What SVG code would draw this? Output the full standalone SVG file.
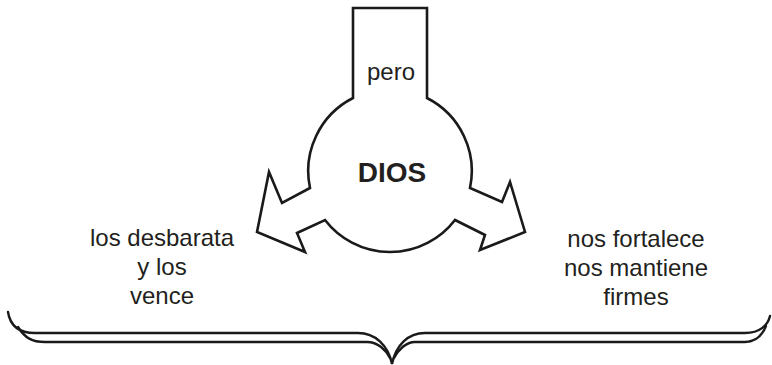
<svg xmlns="http://www.w3.org/2000/svg" width="772" height="365" viewBox="0 0 772 365">
<style>
.shape{fill:#fff;stroke:#1a1a1a;stroke-width:2.6;stroke-linejoin:miter}
.brace{fill:none;stroke:#1a1a1a;stroke-width:2.4;stroke-linecap:round}
.t{font-family:"Liberation Sans",Arial,sans-serif;font-size:24px;fill:#231f20;text-anchor:middle}
.b{font-weight:bold;font-size:28px}
</style>
<rect width="772" height="365" fill="#fff"/>
<g id="dios">
<path class="shape" d="M353,8 L427,8 L427,98 A82,82 0 0 1 470,188 L502,202 L510,182 L525,232 L480,250 L485,235 L455,220 A82,82 0 0 1 325,220 L297,233 L305,252 L257,232 L269,172 L282,203 L310,188 A82,82 0 0 1 353,98 Z"/>
<text class="t" x="391" y="80">pero</text>
<text class="t b" x="392" y="182">DIOS</text>
</g>
<g id="left-label">
<text class="t" x="162" y="246">los desbarata</text>
<text class="t" x="162" y="275">y los</text>
<text class="t" x="162" y="304">vence</text>
</g>
<g id="right-label">
<text class="t" x="636" y="247">nos fortalece</text>
<text class="t" x="636" y="276">nos mantiene</text>
<text class="t" x="636" y="305">firmes</text>
</g>
<g id="connectors">
<path class="brace" d="M8,312 C10,325 18,333 35,333 L358,333 C375,333 388,345 392,364 C396,345 408,333 425,333 L745,333 C760,333 768,325 770,316"/>
<path class="brace" d="M18,327 C25,338 32,342 45,342 L367,342 C378,342 386,350 390,358 M394,358 C398,350 406,342 415,342 L745,342 C755,342 762,336 766,326"/>
</g>
</svg>
